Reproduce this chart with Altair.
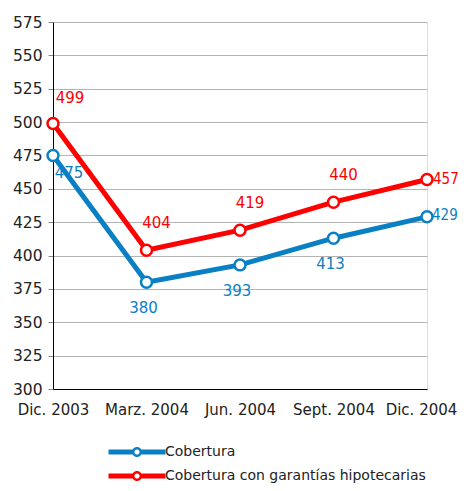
import altair as alt
import pandas as pd

categories = ["Dic. 2003", "Marz. 2004", "Jun. 2004", "Sept. 2004", "Dic. 2004"]
cobertura = [475, 380, 393, 413, 429]
hipotecarias = [499, 404, 419, 440, 457]
series_names = ["Cobertura", "Cobertura con garantías hipotecarias"]
colors = ["#0a80c4", "#ff0000"]
y_ticks = list(range(300, 576, 25))

rows = []
for i, c in enumerate(categories):
    rows.append({"cat": c, "idx": i, "series": series_names[0], "value": cobertura[i]})
    rows.append({"cat": c, "idx": i, "series": series_names[1], "value": hipotecarias[i]})
df = pd.DataFrame(rows)

FONT = "DejaVu Sans"

x = alt.X("cat:N", sort=categories, title=None,
          scale=alt.Scale(type="point", padding=0),
          axis=alt.Axis(labelAngle=0, ticks=False, labelPadding=13, labelFontSize=15,
                        labelFont=FONT, labelColor="#222", domainColor="black",
                        grid=False, labelOverlap=False,
                        labelOffset=alt.condition("datum.value == 'Dic. 2004'", alt.value(-6), alt.value(0))))
y = alt.Y("value:Q", title=None,
          scale=alt.Scale(domain=[300, 575], nice=False, zero=False),
          axis=alt.Axis(values=y_ticks, labelFontSize=15.5, labelFont=FONT, labelColor="#222",
                        tickColor="#888", tickSize=5, labelPadding=6, domainColor="black",
                        gridColor="#b4b4b4", gridWidth=1))
cscale = alt.Scale(domain=series_names, range=colors)

# legend glyph: two thick bars and a ring (ring hole via opposite winding)
glyph = ("M-1.9,-0.167H-0.25V0.167H-1.9Z"
         "M0.25,-0.167H1.9V0.167H0.25Z"
         "M0.333,0A0.333,0.333 0 1 1 -0.333,0A0.333,0.333 0 1 1 0.333,0Z"
         "M0.173,0A0.173,0.173 0 1 0 -0.173,0A0.173,0.173 0 1 0 0.173,0Z")
legend = alt.Legend(title=None, orient="none", legendX=69, legendY=415,
                    direction="vertical", symbolType=glyph,
                    symbolSize=900, symbolStrokeWidth=0,
                    labelFontSize=14, labelFont=FONT,
                    labelColor="#222", labelOffset=13, rowPadding=2, padding=0,
                    labelLimit=400)

base = alt.Chart(df)
lines = base.mark_line(strokeWidth=5).encode(
    x=x, y=y, color=alt.Color("series:N", scale=cscale, legend=legend))
points = base.mark_point(filled=False, fill="white", fillOpacity=1, size=120, strokeWidth=2.5, opacity=1).encode(
    x=x, y=y, color=alt.Color("series:N", scale=cscale, legend=legend))

def lbl(series, cond, font=FONT, **kw):
    return base.transform_filter(alt.datum.series == series).transform_filter(cond).mark_text(
        font=font, fontSize=15, **kw).encode(x=x, y=y, text="value:Q",
        color=alt.Color("series:N", scale=cscale, legend=None))

red_first = lbl(series_names[1], alt.datum.idx == 0, dx=17, dy=-25, align="center", baseline="middle")
red_main = lbl(series_names[1], (alt.datum.idx > 0) & (alt.datum.idx < 4), dx=10, dy=-27, align="center", baseline="middle")
red_last = lbl(series_names[1], alt.datum.idx == 4, font="DejaVu Sans Condensed", dx=6, dy=0, align="left", baseline="middle")
blue_first = lbl(series_names[0], alt.datum.idx == 0, dx=16, dy=18, align="center", baseline="middle")
blue_mid = lbl(series_names[0], (alt.datum.idx > 0) & (alt.datum.idx < 4), dx=-3, dy=26, align="center", baseline="middle")
blue_last = lbl(series_names[0], alt.datum.idx == 4, font="DejaVu Sans Condensed", dx=5, dy=-2, align="left", baseline="middle")

chart = alt.layer(lines, points, red_first, red_main, red_last, blue_first, blue_mid, blue_last).properties(
    width=374, height=367, autosize=alt.AutoSizeParams(type="none"),
    padding={"left": 45, "top": 14, "right": 31, "bottom": 94}
).configure_view(stroke="black", strokeWidth=1).configure(background="white")

chart.save("out.html", embed_options={"renderer": "svg", "actions": False})
